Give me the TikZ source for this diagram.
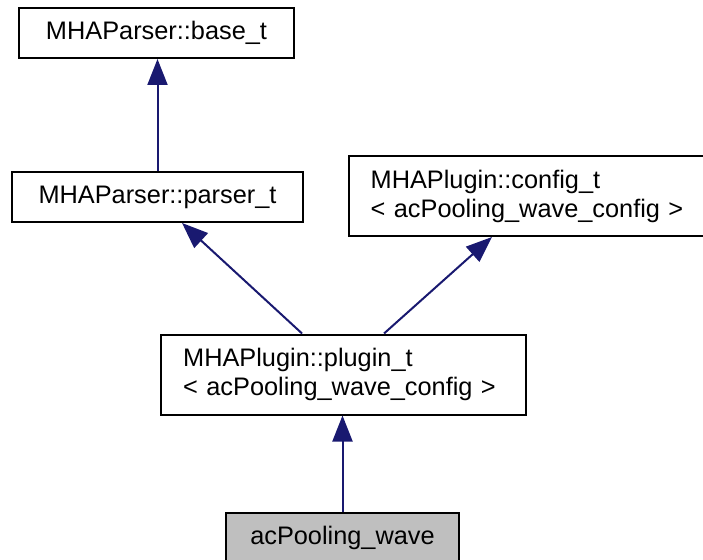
\documentclass[tikz,border=0pt]{standalone}
\usepackage{fontspec}
\setmainfont{Liberation Sans}
\usetikzlibrary{arrows.meta}
\definecolor{edgeblue}{HTML}{191970}
\definecolor{curgray}{HTML}{BFBFBF}

\begin{document}
\begin{tikzpicture}[x=0.75pt,y=-0.75pt,
    box/.style={draw=black,line width=1.5pt,inner sep=0pt,
      font=\fontsize{19}{21.75}\selectfont},
    onebox/.style={box,minimum height=37.5pt},
    twobox/.style={box,minimum height=60pt,inner xsep=16.5pt,
      text width=240.5pt,align=left},
    inherit/.style={draw=edgeblue,line width=1.5pt,
      {Triangle[length=19.5pt,width=15pt]}-}]
  \useasboundingbox (0,0) rectangle (703,560);
  \clip (0,0) rectangle (703,560);
  % class nodes
  \node[onebox,minimum width=206.25pt] (base) at (156.5,33) {MHAParser::base\_t};
  \node[onebox,minimum width=218.25pt] (parser) at (157.5,197) {MHAParser::parser\_t};
  \node[twobox] (config) at (531,196) {MHAPlugin::config\_t\\< acPooling\_wave\_config >};
  \node[twobox] (plugin) at (343.5,374.5) {MHAPlugin::plugin\_t\\< acPooling\_wave\_config >};
  \node[onebox,fill=curgray,minimum width=174.75pt] (wave) at (342.5,538) {acPooling\_wave};
  % inheritance
  \draw[inherit] (base.south -| parser.north) -- (parser.north);
  \draw[inherit] ([xshift=18.4pt]parser.south) -- ([xshift=-31.1pt]plugin.north);
  \draw[inherit] ([xshift=-29.25pt]config.south) -- ([xshift=30.4pt]plugin.north);
  \draw[inherit] (plugin.south -| wave.north) -- (wave.north);
\end{tikzpicture}
\end{document}
